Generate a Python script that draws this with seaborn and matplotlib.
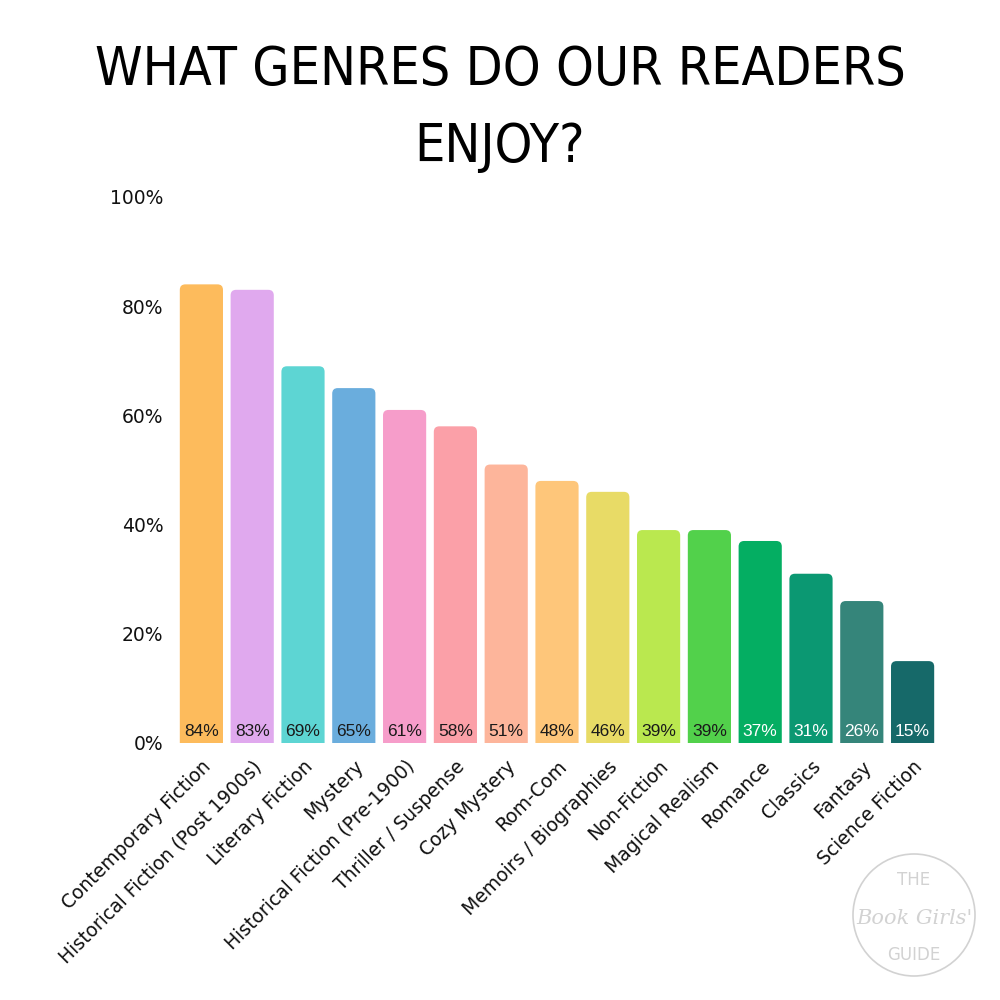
import matplotlib
matplotlib.use("Agg")
import matplotlib.pyplot as plt
import seaborn as sns
import pandas as pd
from matplotlib.patches import FancyBboxPatch, Circle
from matplotlib.ticker import PercentFormatter

genres = ["Contemporary Fiction", "Historical Fiction (Post 1900s)", "Literary Fiction",
          "Mystery", "Historical Fiction (Pre-1900)", "Thriller / Suspense", "Cozy Mystery",
          "Rom-Com", "Memoirs / Biographies", "Non-Fiction", "Magical Realism", "Romance",
          "Classics", "Fantasy", "Science Fiction"]
shares = [84, 83, 69, 65, 61, 58, 51, 48, 46, 39, 39, 37, 31, 26, 15]
colors = ["#FDBB5C", "#E0A9EE", "#5DD5D3", "#6AADDD", "#F69DCA", "#FBA0A8", "#FDB59B",
          "#FEC67A", "#E8DB66", "#BAE84F", "#52D14B", "#04AE62", "#0B9872", "#35857A",
          "#166969"]
label_colors = ["#1a1a1a"] * 11 + ["white"] * 4
y_ticks = [0, 20, 40, 60, 80, 100]

sns.set_theme(style="white")
plt.rcParams["font.family"] = ["DejaVu Sans"]

df = pd.DataFrame({"genre": genres, "share": shares})

fig = plt.figure(figsize=(10, 10), dpi=100)
ax_pos = [0.176, 0.257, 0.762, 0.546]
ax = fig.add_axes(ax_pos)
sns.barplot(data=df, x="genre", y="share", hue="genre", palette=colors,
            legend=False, width=0.85, ax=ax, saturation=1)

ax.set_ylim(0, 100)
ax.set_xlim(-0.5, len(genres) - 0.5)

# aspect: data y units per data x unit on screen
px_per_x = ax_pos[2] * 1000 / len(genres)
px_per_y = ax_pos[3] * 1000 / 100
aspect = px_per_x / px_per_y
r_x = 5.5 / px_per_x

# round the bar tops (bottom corners fall below the axis and are clipped)
for p, c in zip(list(ax.patches), colors):
    x, y = p.get_x(), p.get_y()
    w, h = p.get_width(), p.get_height()
    p.set_visible(False)
    ext = 3
    rb = FancyBboxPatch((x, y - ext), w, h + ext,
                        boxstyle=f"round,pad=0,rounding_size={r_x}",
                        mutation_aspect=aspect, facecolor=c, edgecolor="none",
                        clip_on=True)
    ax.add_patch(rb)

for i, (v, lc) in enumerate(zip(shares, label_colors)):
    ax.text(i, 2.1, f"{v}%", ha="center", va="center", fontsize=12.5,
            color=lc, family="Liberation Sans")

ax.set_yticks(y_ticks)
ax.yaxis.set_major_formatter(PercentFormatter(100, decimals=0))
ax.tick_params(axis="y", labelsize=13.5, pad=9, length=0, labelcolor="#111111")
ax.tick_params(axis="x", length=0, pad=10, labelcolor="#111111")
ax.set_xticks(range(len(genres)))
ax.set_xticklabels(genres, rotation=45, ha="right", rotation_mode="anchor",
                   fontsize=13.5)
ax.set_xlabel("")
ax.set_ylabel("")
for s in ax.spines.values():
    s.set_visible(False)
ax.grid(False)

title_font = dict(ha="center", va="center", fontsize=38.5,
                  family=["Liberation Sans Narrow", "DejaVu Sans"],
                  stretch="condensed", color="black")
fig.text(0.5, 0.930, "WHAT GENRES DO OUR READERS", **title_font)
fig.text(0.5, 0.853, "ENJOY?", **title_font)

# watermark
wm = "#d2d2d2"
fig.add_artist(Circle((0.914, 0.085), 0.061, transform=fig.transFigure,
                      fill=False, edgecolor=wm, lw=1.2))
fig.text(0.914, 0.120, "THE", ha="center", va="center", fontsize=12, color=wm,
         family="DejaVu Sans")
fig.text(0.914, 0.082, "Book Girls'", ha="center", va="center", fontsize=15,
         color=wm, style="italic", family="DejaVu Serif")
fig.text(0.914, 0.045, "GUIDE", ha="center", va="center", fontsize=12, color=wm,
         family="DejaVu Sans")

fig.savefig("out.png", dpi=100, facecolor="white")
